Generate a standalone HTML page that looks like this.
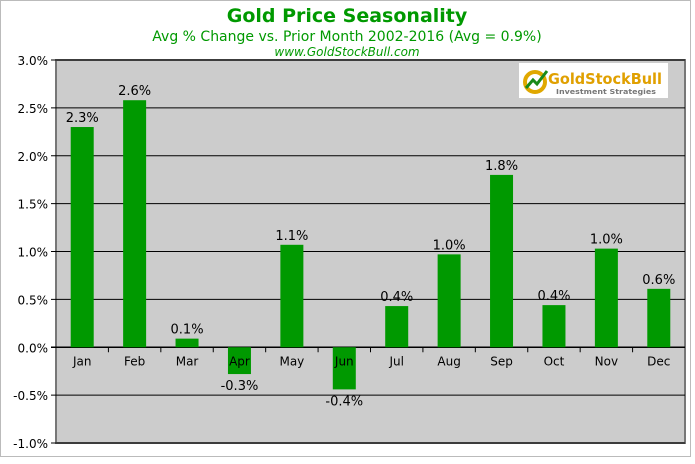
<!DOCTYPE html>
<html><head><meta charset="utf-8"><style>
body{margin:0;background:#fff;font-family:"DejaVu Sans","Liberation Sans",sans-serif}
svg text{font-family:"DejaVu Sans","Liberation Sans",sans-serif}
</style></head><body>
<svg width="695" height="460" id="c">
<rect x="0.5" y="0.5" width="690" height="456" fill="#fff" stroke="#bbb"/>
<text x="347" y="22" text-anchor="middle" font-size="19" font-weight="bold" fill="#009900">Gold Price Seasonality</text>
<text x="347" y="41" text-anchor="middle" font-size="14" fill="#009900">Avg % Change vs. Prior Month 2002-2016 (Avg = 0.9%)</text>
<text x="347" y="56" text-anchor="middle" font-size="12" font-style="italic" fill="#009900">www.GoldStockBull.com</text>
<rect x="56" y="60" width="629" height="383" fill="#cccccc" stroke="#777" stroke-width="2"/>
<g id="grid"></g><g id="bars"></g><g id="labels"></g>
<g>
<rect x="519" y="63" width="149" height="35" fill="#fff"/>
<circle cx="535" cy="82" r="10" fill="none" stroke="#e0a800" stroke-width="4"/>
<polyline points="526,88 533,80 537,84 547,71" fill="none" stroke="#1a8a1a" stroke-width="3"/>
<text x="548" y="84" font-size="15" font-weight="bold" fill="#e0a000" textLength="114" lengthAdjust="spacingAndGlyphs">GoldStockBull</text>
<text x="556" y="94" font-size="7" font-weight="bold" fill="#777" textLength="100" lengthAdjust="spacingAndGlyphs">Investment Strategies</text>
</g>
</svg>
<script>
const months=["Jan","Feb","Mar","Apr","May","Jun","Jul","Aug","Sep","Oct","Nov","Dec"];
const values=[2.3,2.58,0.09,-0.28,1.07,-0.44,0.43,0.97,1.8,0.44,1.03,0.61];
const valueLabels=["2.3%","2.6%","0.1%","-0.3%","1.1%","-0.4%","0.4%","1.0%","1.8%","0.4%","1.0%","0.6%"];
const ticks=[3,2.5,2,1.5,1,0.5,0,-0.5,-1];
const ns="http://www.w3.org/2000/svg";
const L=56,R=685,T=60,B=443,ymin=-1,ymax=3;
const y=v=>B-(v-ymin)/(ymax-ymin)*(B-T);
const bw=(R-L)/12;
const x=i=>L+bw*(i+0.5);
function mk(t,a,p){const e=document.createElementNS(ns,t);for(const k in a)e.setAttribute(k,a[k]);p.appendChild(e);return e;}
const g=document.getElementById('grid'),b=document.getElementById('bars'),lb=document.getElementById('labels');
ticks.forEach(t=>{
 const ln=mk('line',{x1:L-5,x2:R,y1:y(t),y2:y(t),stroke:'#000','stroke-width':t===0?1.5:1},g);
 
 
 const tx=mk('text',{x:L-8,y:y(t)+5,'text-anchor':'end','font-size':12},g);
 tx.textContent=t.toFixed(1)+'%';
 
 
});
for(let i=1;i<12;i++){const tk=mk('line',{x1:L+bw*i,x2:L+bw*i,y1:y(0),y2:y(0)+5,stroke:'#000'},g);
 
 }
values.forEach((v,i)=>{
 const top=Math.min(y(v),y(0)),h=Math.abs(y(v)-y(0));
 const r=mk('rect',{x:x(i)-11.5,y:top,width:23,height:h,fill:'#009900'},b);
 
 
 const m=mk('text',{x:x(i),y:y(0)+18,'text-anchor':'middle','font-size':12},lb);
 m.textContent=months[i];
 
 
 const vl=mk('text',{x:x(i),y:v>=0?y(v)-5:y(v)+16,'text-anchor':'middle','font-size':13},lb);
 vl.textContent=valueLabels[i];
 
 
});
</script>
</body></html>
